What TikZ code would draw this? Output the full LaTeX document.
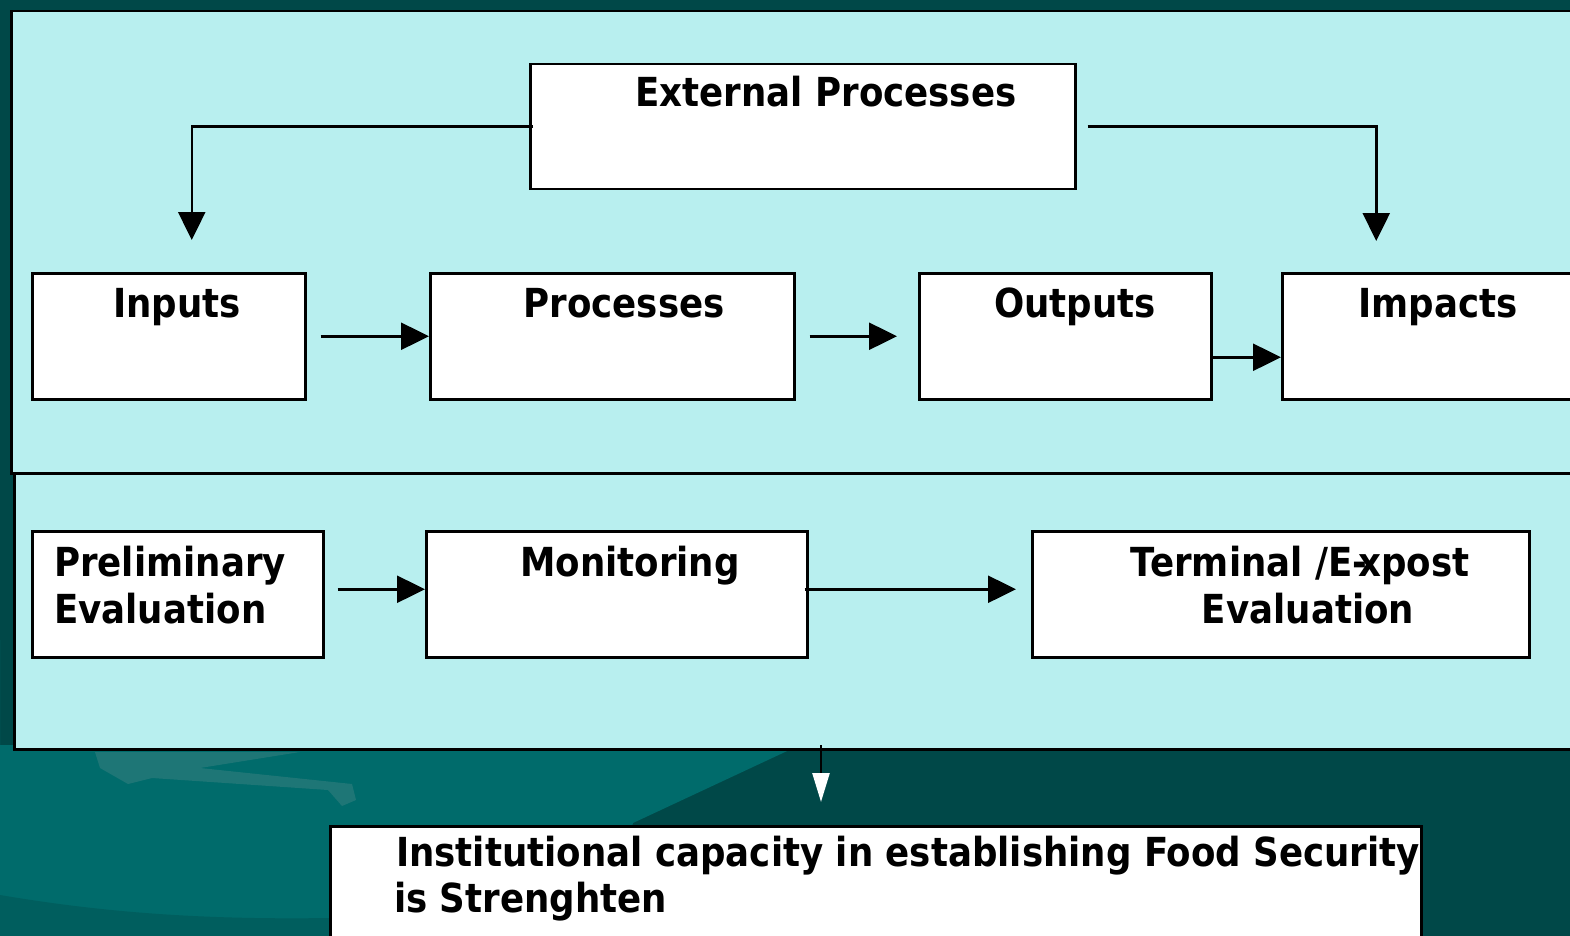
\documentclass[tikz,border=0pt]{standalone}
\usepackage{fontspec}
\setmainfont{DejaVu Sans}[FakeStretch=0.89]
\usetikzlibrary{arrows.meta}
\definecolor{bgdark}{HTML}{004848}
\definecolor{bgteal}{HTML}{006B6B}
\definecolor{bgstreak}{HTML}{1E7676}
\definecolor{bgband}{HTML}{005E5E}
\definecolor{panelfill}{HTML}{B8EFEF}
\tikzset{
  panel/.style={draw=black, line width=2.5pt, fill=panelfill, rectangle, inner sep=0pt, anchor=north west},
  box/.style={draw=black, line width=2.5pt, fill=white, rectangle, inner sep=0pt, anchor=north west},
  lbl/.style={font=\fontsize{40}{47}\selectfont\bfseries, inner sep=0pt, anchor=base},
  lbll/.style={lbl, anchor=base west},
  arr/.style={line width=2.5pt, -{Triangle[length=28pt,width=27pt]}},
  warr/.style={line width=2.5pt, -{Triangle[length=29pt,width=17pt,color=white]}}
}
\begin{document}
\begin{tikzpicture}[x=1pt,y=-1pt]
\useasboundingbox (0,0) rectangle (1570,936);
% background
\fill[bgdark] (0,0) rectangle (1570,936);
\fill[bgteal] (0,640) -- (0,936) -- (600,936) -- (633,823) -- (800,745) -- (0,745) -- cycle;
\fill[bgband] (0,895) .. controls (100,912) and (200,920) .. (330,918) -- (330,936) -- (0,936) -- cycle;
\fill[bgstreak] (95,752) -- (100,768) -- (128,784) -- (152,778) -- (328,790) -- (342,806) -- (356,800) -- (352,784) -- (200,768) -- (300,752) -- cycle;
% panels
\node[panel, minimum width=1565pt, minimum height=462pt] (panel1) at (10,10) {};
\node[panel, minimum width=1562pt, minimum height=276pt] (panel2) at (13,472) {};
% boxes
\node[box, minimum width=545pt, minimum height=125pt] (ext) at (529,63) {};
\node[box, minimum width=273pt, minimum height=126pt] (inp) at (31,272) {};
\node[box, minimum width=364pt, minimum height=126pt] (proc) at (429,272) {};
\node[box, minimum width=292pt, minimum height=126pt] (outp) at (918,272) {};
\node[box, minimum width=294pt, minimum height=126pt] (imp) at (1281,272) {};
\node[box, minimum width=291pt, minimum height=126pt] (prel) at (31,530) {};
\node[box, minimum width=381pt, minimum height=126pt] (mon) at (425,530) {};
\node[box, minimum width=497pt, minimum height=126pt] (term) at (1031,530) {};
\node[box, minimum width=1091pt, minimum height=130pt] (inst) at (329,825) {};
% labels
\node[lbl] (t-ext) at (826,107) {External Processes};
\node[lbl] (t-inp) at (177,317) {Inputs};
\node[lbl] (t-proc) at (624,317) {Processes};
\node[lbl] (t-outp) at (1075,317) {Outputs};
\node[lbl] (t-imp) at (1438,317) {Impacts};
\node[lbll] (t-prel1) at (54,576) {Preliminary};
\node[lbll] (t-prel2) at (54,623) {Evaluation};
\node[lbl] (t-mon) at (630,576) {Monitoring};
\node[lbl] (t-term1) at (1300,576) {Terminal /E-\kern-9pt xpost};
\node[lbl] (t-term2) at (1308,623) {Evaluation};
\node[lbll] (t-inst1) at (396,866) {Institutional capacity in establishing Food Security};
\node[lbll] (t-inst2) at (394,912) {is Strenghten};
% connectors
\draw[arr, shorten >=32pt] ([xshift=4pt]ext.west) -| ([xshift=23pt]inp.north);
\draw[arr, shorten >=31pt] ([xshift=11pt]ext.east) -| ([xshift=-53pt]imp.north);
\draw[arr] ([xshift=14pt]inp.east) -- (proc.west);
\draw[arr, shorten >=21pt] ([xshift=14pt]proc.east) -- (outp.west);
\draw[arr] ([yshift=-21pt]outp.east) -- ([yshift=-21pt]imp.west);
\draw[arr] ([xshift=13pt,yshift=5pt]prel.east) -- ([yshift=5pt]mon.west);
\draw[arr, shorten >=15pt] ([xshift=-4pt,yshift=5pt]mon.east) -- ([yshift=5pt]term.west);
\coordinate (dtop) at (821,745);
\draw[warr, shorten >=23pt] (dtop) -- (dtop |- inst.north);
\end{tikzpicture}
\end{document}
